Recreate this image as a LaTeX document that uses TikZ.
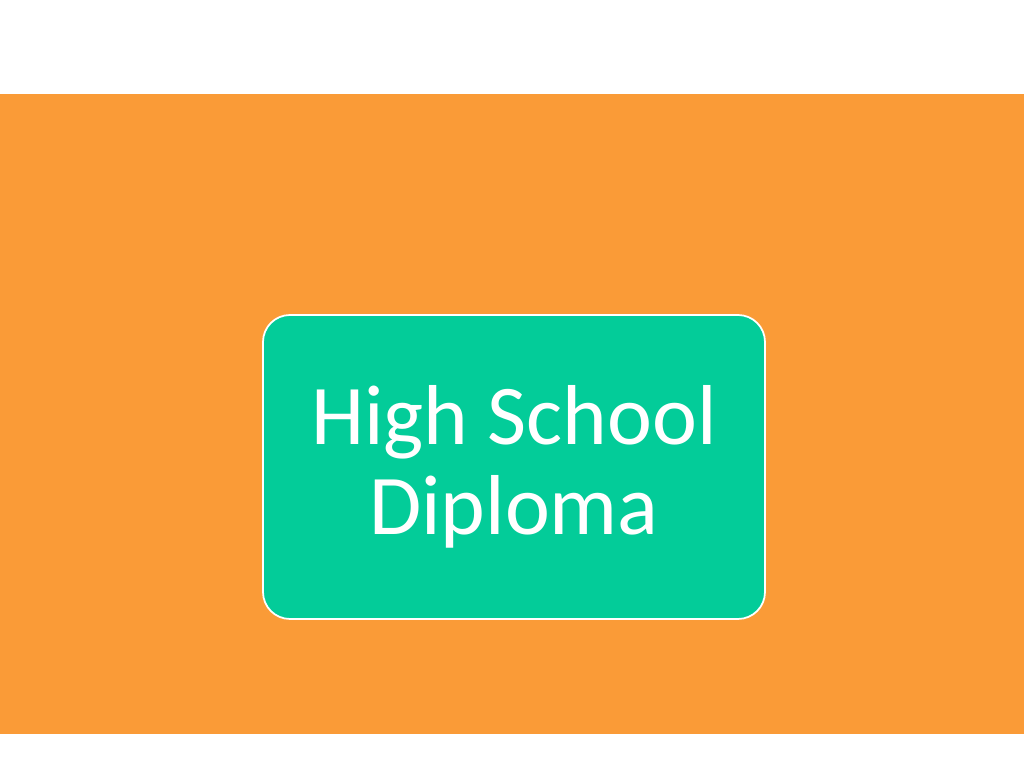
\documentclass[tikz,border=0pt]{standalone}
\usepackage{fontspec}
\setmainfont{Carlito}
\usetikzlibrary{positioning}
\definecolor{bandorange}{HTML}{FA9B37}
\definecolor{boxgreen}{HTML}{03CC99}

\begin{document}
\begin{tikzpicture}[
    node distance=0cm,
    stepbox/.style={draw=white, line width=0.5pt, fill=boxgreen, rounded corners=0.27cm,
        minimum width=5.02cm, minimum height=3.04cm, text=white, align=center,
        font=\fontsize{24.2pt}{25.6pt}\selectfont, inner sep=0cm}
]
    \useasboundingbox (0,0) rectangle (10.24,7.68);
    \fill [bandorange] (0,0.34) rectangle (10.24,6.74);

    \node [stepbox] (diploma) at (5.14,3.01) {High School\\Diploma};
\end{tikzpicture}
\end{document}
